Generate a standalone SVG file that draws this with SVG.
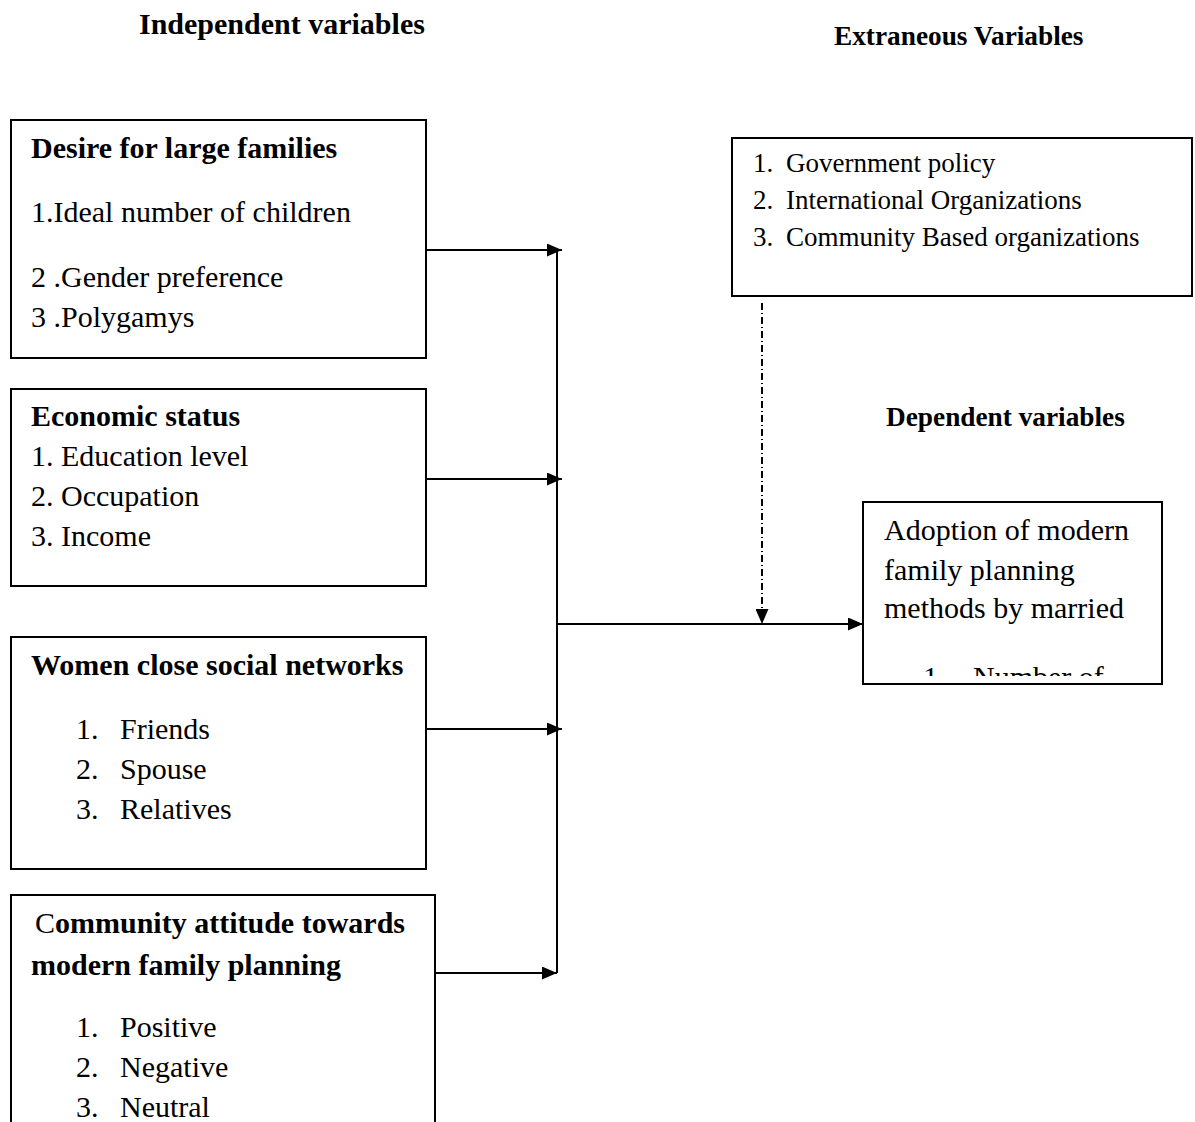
<svg xmlns="http://www.w3.org/2000/svg" width="1195" height="1122" viewBox="0 0 1195 1122">
<style>
text{font-family:"Liberation Serif","Times New Roman",serif;fill:#000}
.r{font-size:30px}
.b{font-size:30px;font-weight:bold}
.h{font-size:27.3px;font-weight:bold}
.s{font-size:27px}
.box{fill:#fff;stroke:#000;stroke-width:2}
.ln{stroke:#000;stroke-width:2;fill:none}
</style>
<defs>
<marker id="ah" viewBox="0 0 15 13" refX="15" refY="6.5" markerWidth="15" markerHeight="13" markerUnits="userSpaceOnUse" orient="auto">
<path d="M0,0 L15,6.5 L0,13 Z" fill="#000"/>
</marker>
<clipPath id="depclip"><rect x="864" y="503" width="297" height="173"/></clipPath>
</defs>
<g id="titles">
<text class="b" x="139" y="34">Independent variables</text>
<text class="h" x="834" y="45">Extraneous Variables</text>
<text class="h" x="886" y="426">Dependent variables</text>
</g>
<g id="connectors">
<line class="ln" x1="557" y1="250" x2="557" y2="973"/>
<line class="ln" x1="426" y1="250" x2="562" y2="250" marker-end="url(#ah)"/>
<line class="ln" x1="426" y1="479" x2="562" y2="479" marker-end="url(#ah)"/>
<line class="ln" x1="426" y1="729" x2="562" y2="729" marker-end="url(#ah)"/>
<line class="ln" x1="436" y1="973" x2="557" y2="973" marker-end="url(#ah)"/>
<line class="ln" x1="557" y1="624" x2="863" y2="624" marker-end="url(#ah)"/>
<line x1="762" y1="303" x2="762" y2="624" stroke="#000" stroke-width="2" stroke-dasharray="7,3,1,3" marker-end="url(#ah)"/>
</g>
<g id="desire">
<rect class="box" x="11" y="120" width="415" height="238"/>
<text class="b" x="31" y="158">Desire for large families</text>
<text class="r" x="31" y="222">1.Ideal number of children</text>
<text class="r" x="31" y="287">2 .Gender preference</text>
<text class="r" x="31" y="327">3 .Polygamys</text>
</g>
<g id="economic">
<rect class="box" x="11" y="389" width="415" height="197"/>
<text class="b" x="31" y="426">Economic status</text>
<text class="r" x="31" y="466">1. Education level</text>
<text class="r" x="31" y="506">2. Occupation</text>
<text class="r" x="31" y="546">3. Income</text>
</g>
<g id="women">
<rect class="box" x="11" y="637" width="415" height="232"/>
<text class="b" x="31" y="675">Women close social networks</text>
<text class="r" x="76" y="739">1.</text><text class="r" x="120" y="739">Friends</text>
<text class="r" x="76" y="779">2.</text><text class="r" x="120" y="779">Spouse</text>
<text class="r" x="76" y="819">3.</text><text class="r" x="120" y="819">Relatives</text>
</g>
<g id="community">
<path class="ln" d="M11,1123 V895 H435 V1123"/>
<text class="b" x="35" y="933"><tspan font-weight="normal">C</tspan>ommunity attitude towards</text>
<text class="b" x="31" y="975">modern family planning</text>
<text class="r" x="76" y="1037">1.</text><text class="r" x="120" y="1037">Positive</text>
<text class="r" x="76" y="1077">2.</text><text class="r" x="120" y="1077">Negative</text>
<text class="r" x="76" y="1117">3.</text><text class="r" x="120" y="1117">Neutral</text>
</g>
<g id="extraneous">
<rect class="box" x="732" y="138" width="460" height="158"/>
<text class="s" x="753" y="172">1.</text><text class="s" x="786" y="172">Government policy</text>
<text class="s" x="753" y="209">2.</text><text class="s" x="786" y="209">International Organizations</text>
<text class="s" x="753" y="246">3.</text><text class="s" x="786" y="246">Community Based organizations</text>
</g>
<g id="dependent">
<rect class="box" x="863" y="502" width="299" height="182"/>
<text class="r" x="884" y="540">Adoption of modern</text>
<text class="r" x="884" y="580">family planning</text>
<text class="r" x="884" y="618">methods by married</text>
<g clip-path="url(#depclip)">
<text class="r" x="923" y="687">1.</text><text class="r" x="973" y="687">Number of</text>
</g>
</g>
</svg>
